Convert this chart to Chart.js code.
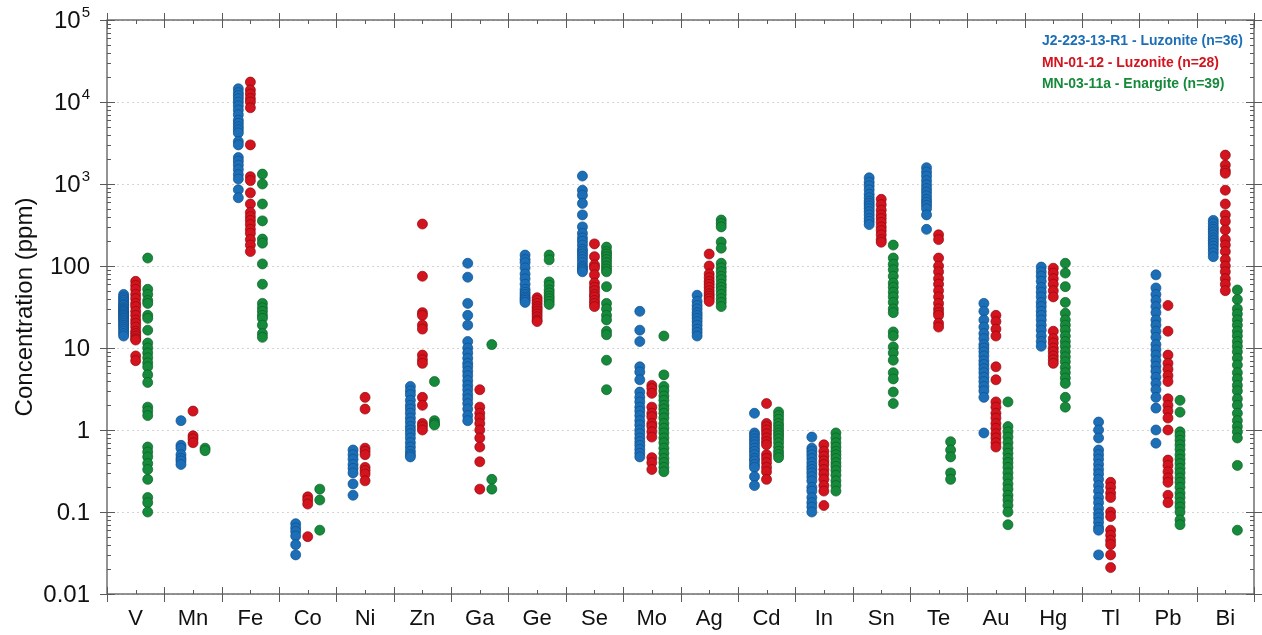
<!DOCTYPE html>
<html>
<head>
<meta charset="utf-8">
<script src="https://cdn.jsdelivr.net/npm/chart.js@4/dist/chart.umd.min.js"></script>
<style>
  html, body { margin: 0; padding: 0; background: #fff; }
  #wrap { width: 1262px; height: 635px; }
</style>
</head>
<body>
<div id="wrap"><canvas id="graph"></canvas></div>
<script>
// elements on the x axis
var elements = ['V', 'Mn', 'Fe', 'Co', 'Ni', 'Zn', 'Ga', 'Ge', 'Se', 'Mo', 'Ag', 'Cd', 'In', 'Sn', 'Te', 'Au', 'Hg', 'Tl', 'Pb', 'Bi'];
var yTickValues = [0.01, 0.1, 1, 10, 100, 1000, 10000, 100000];
var yTickLabels = ['0.01', '0.1', '1', '10', '100', '10^3', '10^4', '10^5'];
var seriesNames = ['J2-223-13-R1 - Luzonite (n=36)', 'MN-01-12 - Luzonite (n=28)', 'MN-03-11a - Enargite (n=39)'];

// concentrations (ppm), one list per element, same order as elements
var j2Luzonite = [
    [45, 42, 40, 38, 36, 34, 33, 31, 30, 29, 28, 27, 26, 25, 24, 23, 22, 21, 20, 19, 18, 17, 16, 15, 14],
    [1.3, 0.65, 0.6, 0.5, 0.45, 0.42, 0.38],
    [14500, 13000, 12000, 11000, 10000, 9000, 8000, 7000, 6000, 5500, 5000, 4600, 4200, 3300, 3000, 2100, 1900, 1700, 1500, 1300, 1150, 850, 680],
    [0.072, 0.064, 0.058, 0.051, 0.04, 0.03],
    [0.57, 0.5, 0.44, 0.38, 0.34, 0.3, 0.22, 0.16],
    [3.4, 3, 2.7, 2.3, 2, 1.8, 1.6, 1.4, 1.25, 1.1, 1, 0.9, 0.8, 0.7, 0.62, 0.55, 0.5, 0.47],
    [108, 73, 35, 25, 19, 12, 10, 8.7, 7.5, 6.5, 5.9, 5.2, 4.6, 4, 3.5, 3.1, 2.7, 2.4, 2.1, 1.8, 1.5, 1.3],
    [136, 120, 110, 95, 80, 70, 60, 52, 48, 45, 42, 40, 38, 36],
    [1250, 840, 730, 580, 420, 300, 250, 220, 200, 180, 160, 150, 140, 130, 120, 110, 100, 95, 90, 85],
    [28, 16.5, 12, 5.9, 5.1, 4.1, 2.9, 2.5, 2.2, 1.9, 1.7, 1.5, 1.3, 1.15, 1, 0.9, 0.8, 0.72, 0.65, 0.58, 0.52, 0.47],
    [44, 37, 33, 30, 27, 25, 23, 21, 19, 17, 15.5, 14],
    [1.6, 0.92, 0.85, 0.78, 0.72, 0.66, 0.6, 0.55, 0.5, 0.45, 0.42, 0.38, 0.35, 0.27, 0.21],
    [0.82, 0.6, 0.55, 0.5, 0.45, 0.4, 0.36, 0.33, 0.3, 0.27, 0.24, 0.2, 0.18, 0.15, 0.13, 0.115, 0.1],
    [1190, 1050, 950, 850, 750, 680, 620, 580, 540, 500, 460, 420, 380, 350, 320],
    [1580, 1400, 1250, 1100, 980, 880, 800, 720, 650, 600, 550, 500, 420, 280],
    [35, 28, 22, 18, 15, 13, 11, 10, 9, 8, 7, 6.3, 5.6, 5, 4.4, 3.9, 3.4, 3, 2.5, 0.92],
    [97, 85, 75, 65, 55, 48, 42, 36, 32, 28, 25, 22, 19, 16.5, 14, 12, 10.5],
    [1.25, 1.0, 0.8, 0.57, 0.5, 0.44, 0.38, 0.33, 0.29, 0.25, 0.21, 0.18, 0.15, 0.13, 0.11, 0.095, 0.085, 0.075, 0.065, 0.06, 0.03],
    [78, 54, 45, 38, 32, 27, 22, 19, 16, 13.5, 11, 9.5, 8.2, 7, 6, 5.2, 4.4, 3.7, 3.1, 2.5, 1.85, 1.0, 0.69],
    [360, 330, 300, 280, 260, 240, 220, 205, 190, 175, 160, 145, 130]
];
var mn01Luzonite = [
    [65, 58, 52, 45, 40, 35, 32, 28, 25, 22, 20, 18, 16, 15, 14, 13, 12.5, 8, 7],
    [1.7, 0.85, 0.78, 0.7],
    [17500, 14000, 12500, 11000, 10000, 8500, 3000, 1230, 1100, 780, 570, 450, 400, 360, 320, 280, 250, 210, 180, 150],
    [0.153, 0.14, 0.125, 0.05],
    [2.5, 1.8, 0.6, 0.55, 0.5, 0.35, 0.32, 0.29, 0.24],
    [325, 75, 27, 25, 19, 17, 8.2, 7.2, 6.5, 2.5, 2.0, 1.2, 1.1, 1.0],
    [3.1, 1.9, 1.6, 1.4, 1.2, 1.0, 0.8, 0.62, 0.41, 0.19],
    [41, 38, 35, 32, 30, 28, 26, 24, 22, 21],
    [186, 130, 103, 95, 78, 62, 55, 50, 45, 42, 38, 35, 32],
    [3.5, 3.2, 2.8, 1.9, 1.6, 1.45, 1.2, 1.1, 0.95, 0.82, 0.46, 0.4, 0.33],
    [140, 100, 80, 72, 65, 60, 55, 50, 46, 43, 40, 37],
    [2.1, 1.2, 1.1, 1.0, 0.9, 0.8, 0.72, 0.66, 0.5, 0.45, 0.4, 0.35, 0.31, 0.25],
    [0.66, 0.55, 0.48, 0.42, 0.38, 0.33, 0.29, 0.25, 0.21, 0.18, 0.12],
    [650, 560, 480, 420, 380, 340, 300, 270, 240, 210, 195],
    [240, 210, 125, 100, 85, 70, 60, 50, 42, 35, 30, 27, 25, 20, 18],
    [25, 21, 17, 14, 5.9, 4.1, 2.2, 1.9, 1.6, 1.4, 1.2, 1.05, 0.9, 0.8, 0.7, 0.62],
    [94, 82, 70, 60, 50, 42, 16, 13, 11.5, 10, 9, 8, 7.2, 6.5],
    [0.23, 0.2, 0.17, 0.15, 0.1, 0.088, 0.06, 0.052, 0.045, 0.04, 0.03, 0.021],
    [33, 16, 8.2, 6.5, 5.5, 4.6, 3.9, 2.4, 2, 1.7, 1.4, 1.0, 0.43, 0.37, 0.31, 0.26, 0.23, 0.16, 0.13],
    [2250, 1700, 1450, 1350, 840, 570, 420, 350, 275, 210, 180, 150, 120, 100, 85, 70, 60, 50]
];
var mn03Enargite = [
    [125, 52, 45, 38, 35, 25, 23, 16.5, 11.5, 10, 8.7, 7.6, 6.6, 5.9, 4.7, 3.8, 1.9, 1.7, 1.5, 0.62, 0.54, 0.47, 0.39, 0.33, 0.25, 0.15, 0.13, 0.1],
    [0.6, 0.56],
    [1320, 1000, 570, 355, 213, 190, 106, 60, 35, 31, 28, 25, 23, 19, 15, 13.5],
    [0.19, 0.14, 0.06],
    [],
    [3.9, 1.3, 1.2, 1.15],
    [11, 0.25, 0.19],
    [136, 119, 64, 58, 51, 47, 43, 40, 37, 34],
    [170, 150, 140, 130, 120, 110, 100, 92, 85, 56, 35, 30, 25, 22, 16, 14.5, 7.1, 3.1],
    [14, 4.7, 3.4, 3, 2.6, 2.3, 2, 1.8, 1.6, 1.4, 1.2, 1.05, 0.92, 0.8, 0.7, 0.6, 0.52, 0.45, 0.4, 0.35, 0.31],
    [364, 330, 300, 196, 165, 108, 95, 85, 75, 68, 60, 55, 50, 45, 40, 36, 32],
    [1.66, 1.5, 1.35, 1.2, 1.1, 1.0, 0.92, 0.85, 0.78, 0.7, 0.62, 0.55, 0.5, 0.46],
    [0.92, 0.8, 0.7, 0.62, 0.55, 0.5, 0.45, 0.4, 0.36, 0.32, 0.28, 0.24, 0.21, 0.18],
    [180, 125, 105, 90, 75, 62, 55, 48, 42, 36, 30, 27, 15.7, 14, 10.3, 8.7, 7.1, 5, 4.2, 2.9, 2.1],
    [0.72, 0.57, 0.47, 0.3, 0.25],
    [2.2, 1.1, 0.95, 0.82, 0.7, 0.6, 0.52, 0.45, 0.4, 0.35, 0.3, 0.26, 0.22, 0.19, 0.16, 0.14, 0.12, 0.1, 0.07],
    [108, 82, 56, 36, 26.5, 22, 19, 16.5, 14, 12, 10.5, 9, 7.8, 6.8, 5.8, 5, 4.3, 3.7, 2.5, 1.9],
    [],
    [2.3, 1.65, 0.95, 0.85, 0.75, 0.66, 0.58, 0.5, 0.44, 0.39, 0.34, 0.3, 0.26, 0.23, 0.2, 0.17, 0.15, 0.13, 0.115, 0.1, 0.08, 0.07],
    [51, 39, 30, 26, 22, 19, 16, 14, 12, 10.5, 9, 7.5, 6.2, 5, 4.2, 3.5, 3, 2.4, 2, 1.6, 1.3, 1.1, 0.95, 0.8, 0.37, 0.06]
];

var fills = ['#1c6fb7', '#d3131d', '#168a3b'];
var edges = ['#0e4f8c', '#8f0a10', '#0c5e27'];
var shift = [-0.21, 0, 0.21];
var police = '"Liberation Sans", Arial, sans-serif';

// transformer les listes en points {x, y}
function points(liste, k) {
    var out = [];
    for (var i = 0; i < liste.length; i++) {
        for (var j = 0; j < liste[i].length; j++) {
            out.push({x: i + 0.5 + shift[k], y: liste[i][j]});
        }
    }
    return out;
}

var allSeries = [j2Luzonite, mn01Luzonite, mn03Enargite];
var datasets = [];
for (var k = 0; k < 3; k++) {
    datasets.push({
        label: seriesNames[k],
        data: points(allSeries[k], k),
        backgroundColor: fills[k],
        borderColor: edges[k],
        borderWidth: 0.7,
        pointRadius: 5,
        pointHoverRadius: 5
    });
}

// cadre, graduations, étiquettes de l'axe y et légende
var cadre = {
    id: 'cadre',
    afterDatasetsDraw: function (chart) {
        var ctx = chart.ctx, a = chart.chartArea;
        var xs = chart.scales.x, ys = chart.scales.y;
        ctx.save();
        ctx.strokeStyle = '#5a5a5a';
        ctx.lineWidth = 1.3;
        ctx.strokeRect(a.left, a.top, a.right - a.left, a.bottom - a.top);
        ctx.lineWidth = 1;
        ctx.beginPath();
        for (var i = 0; i <= elements.length; i++) {
            var px = Math.round(xs.getPixelForValue(i)) + 0.5;
            ctx.moveTo(px, a.top - 7); ctx.lineTo(px, a.top + 8);
            ctx.moveTo(px, a.bottom - 7); ctx.lineTo(px, a.bottom + 8);
            if (i < elements.length) {
                var pm = Math.round(xs.getPixelForValue(i + 0.5)) + 0.5;
                ctx.moveTo(pm, a.top); ctx.lineTo(pm, a.top + 4);
                ctx.moveTo(pm, a.bottom - 4); ctx.lineTo(pm, a.bottom);
            }
        }
        for (var d = 0; d < yTickValues.length; d++) {
            var py = Math.round(ys.getPixelForValue(yTickValues[d])) + 0.5;
            ctx.moveTo(a.left - 7, py); ctx.lineTo(a.left + 8, py);
            ctx.moveTo(a.right - 8, py); ctx.lineTo(a.right + 8, py);
            if (d < yTickValues.length - 1) {
                for (var m = 2; m <= 9; m++) {
                    var pv = Math.round(ys.getPixelForValue(m * yTickValues[d])) + 0.5;
                    ctx.moveTo(a.left, pv); ctx.lineTo(a.left + 4, pv);
                    ctx.moveTo(a.right - 4, pv); ctx.lineTo(a.right, pv);
                }
            }
        }
        ctx.stroke();

        // étiquettes y (avec exposants)
        ctx.fillStyle = '#111';
        ctx.textBaseline = 'middle';
        ctx.textAlign = 'right';
        for (var t = 0; t < yTickValues.length; t++) {
            var yy = ys.getPixelForValue(yTickValues[t]) + 1;
            var parts = yTickLabels[t].split('^');
            if (parts.length === 2) {
                ctx.font = '15px ' + police;
                ctx.fillText(parts[1], 90, yy - 8);
                var w = ctx.measureText(parts[1]).width;
                ctx.font = '24px ' + police;
                ctx.fillText(parts[0], 90 - w - 1, yy);
            } else {
                ctx.font = '24px ' + police;
                ctx.fillText(parts[0], 90, yy);
            }
        }

        // légende en texte coloré (condensé)
        ctx.font = 'bold 15px ' + police;
        ctx.textAlign = 'left';
        var sx = 201 / ctx.measureText(chart.data.datasets[0].label).width;
        ctx.translate(1042, 0);
        ctx.scale(sx, 1);
        for (var s = 0; s < chart.data.datasets.length; s++) {
            ctx.fillStyle = fills[s];
            ctx.fillText(chart.data.datasets[s].label, 0, 41 + s * 21.5);
        }
        ctx.restore();
    }
};

var ctx = document.getElementById('graph').getContext('2d');
var chart = new Chart(ctx, {
    type: 'scatter',
    data: { datasets: datasets },
    plugins: [cadre],
    options: {
        responsive: true,
        maintainAspectRatio: false,
        animation: false,
        layout: { padding: { top: 20, right: 8, left: 0, bottom: 0 } },
        plugins: {
            legend: { display: false },
            tooltip: { enabled: false }
        },
        scales: {
            x: {
                type: 'linear',
                min: 0,
                max: elements.length,
                afterBuildTicks: function (s) {
                    s.ticks = elements.map(function (e, i) { return {value: i + 0.5}; });
                },
                afterFit: function (s) { s.height = 41; },
                grid: { display: false, drawTicks: false },
                border: { display: false },
                ticks: {
                    autoSkip: false,
                    maxRotation: 0,
                    padding: 12,
                    color: '#111',
                    font: { family: police, size: 22 },
                    callback: function (v) { return elements[Math.round(v - 0.5)]; }
                }
            },
            y: {
                type: 'logarithmic',
                min: 0.01,
                max: 100000,
                afterBuildTicks: function (s) {
                    s.ticks = yTickValues.map(function (v) { return {value: v}; });
                },
                afterFit: function (s) { s.width = 107; },
                grid: { color: '#d4d4d4', lineWidth: 1, drawTicks: false },
                border: { display: false, dash: [2, 3] },
                ticks: { display: false },
                title: {
                    display: true,
                    text: 'Concentration (ppm)',
                    color: '#111',
                    padding: { top: 11, bottom: 0 },
                    font: { family: police, size: 24 }
                }
            }
        }
    }
});
</script>
</body>
</html>
